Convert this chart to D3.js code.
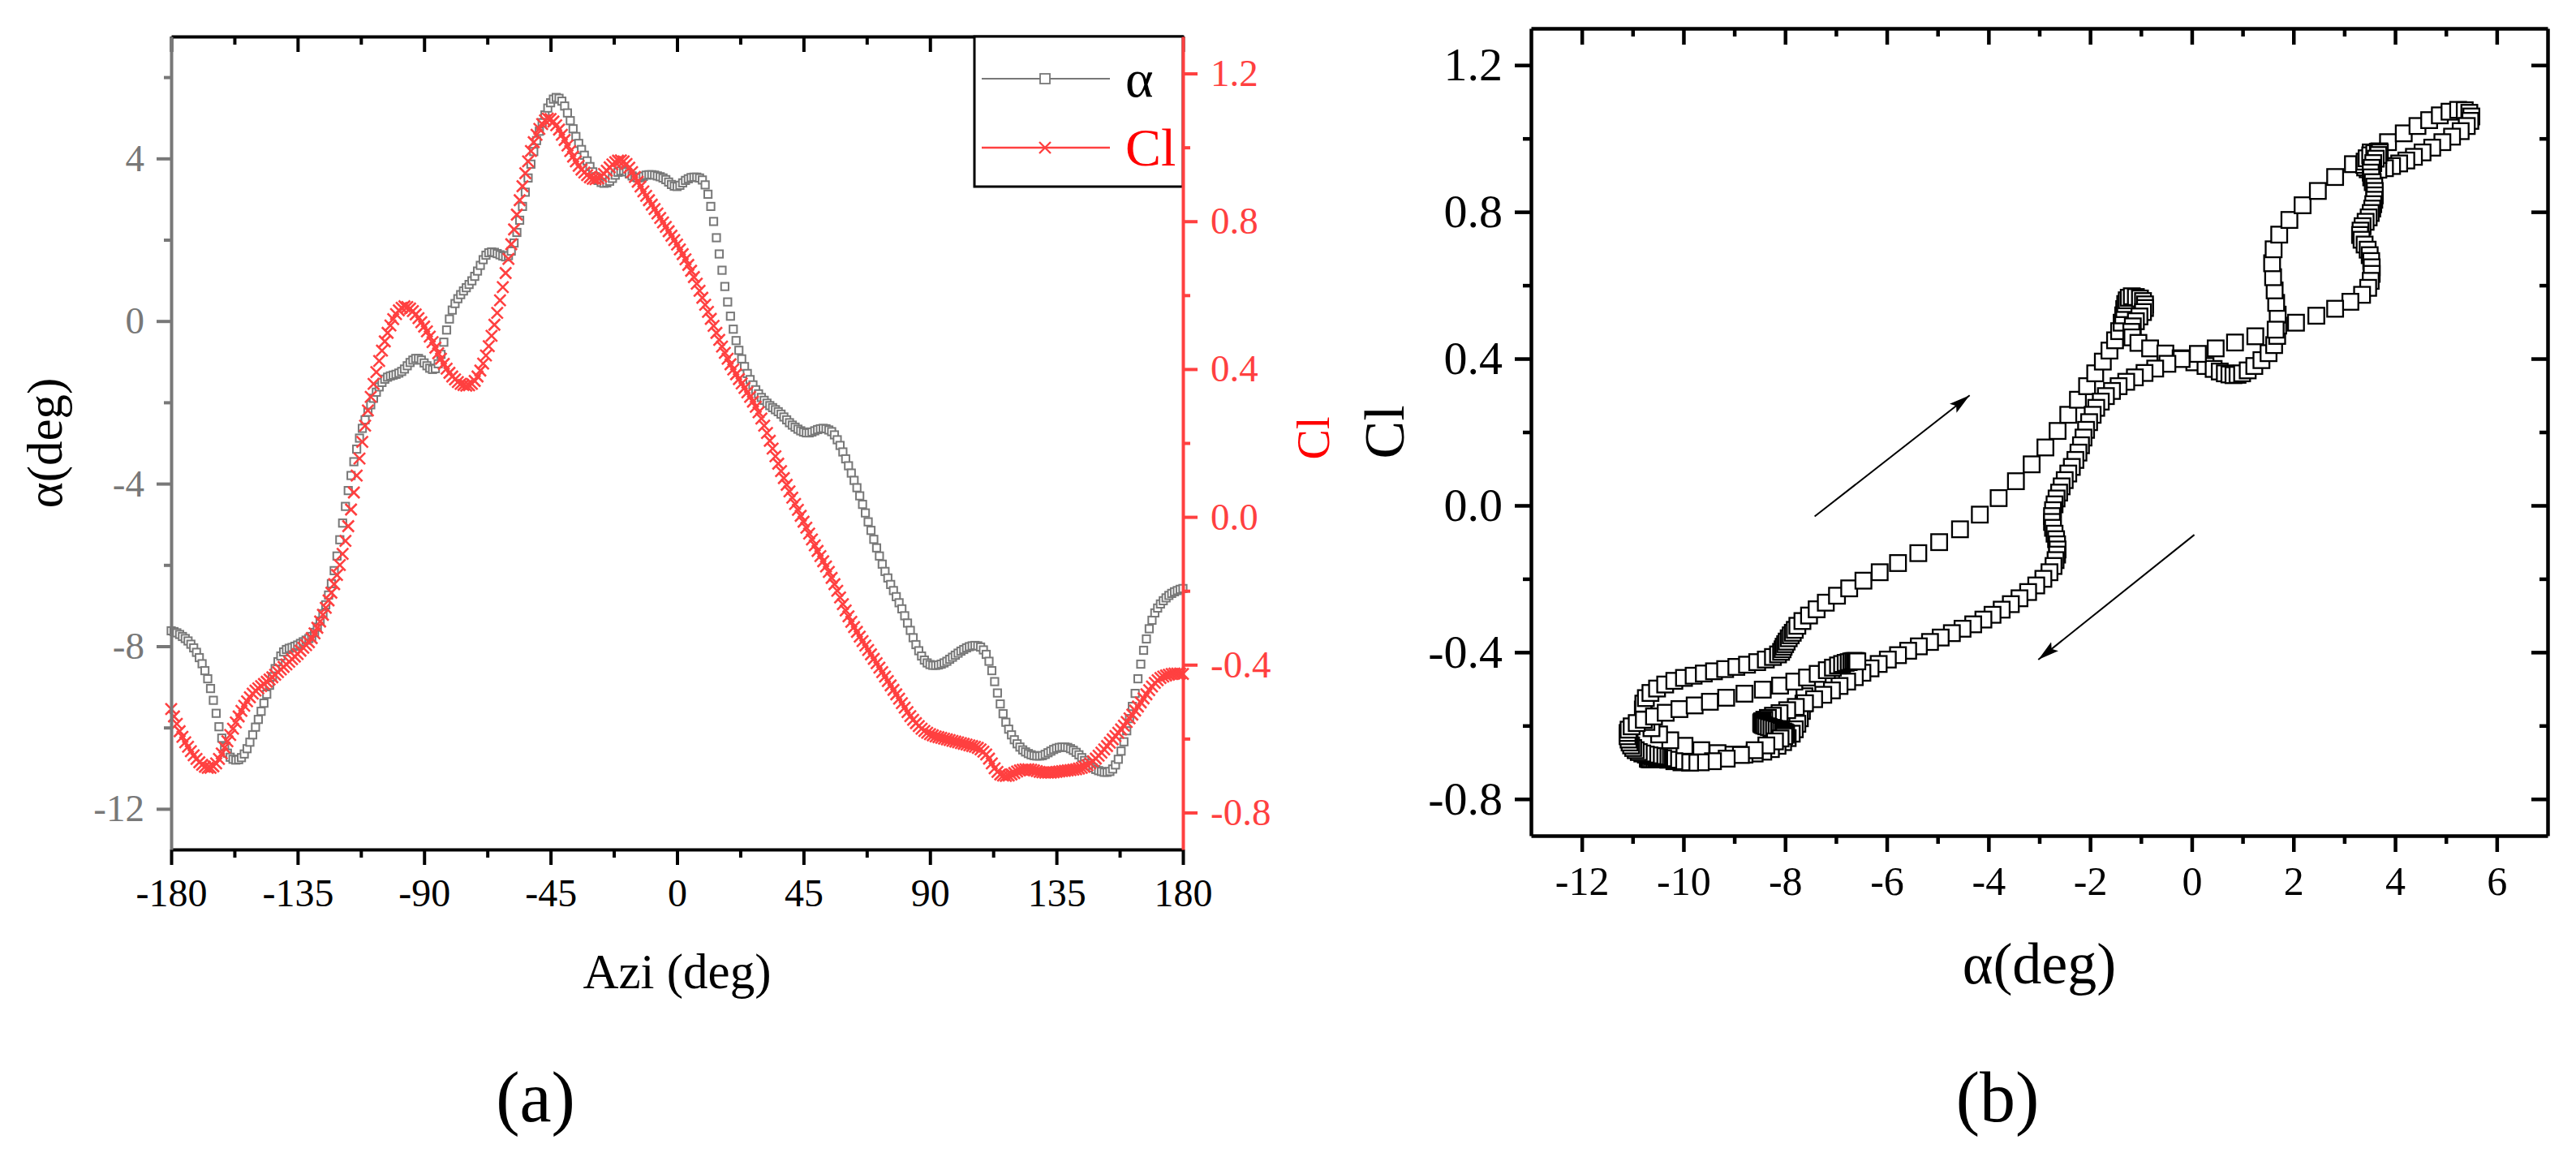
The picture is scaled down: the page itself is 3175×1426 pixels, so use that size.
<!DOCTYPE html>
<html>
<head>
<meta charset="utf-8">
<script src="https://cdn.jsdelivr.net/npm/d3@7"></script>
<style>
  body { margin: 0; background: #fff; }
  svg { display: block; }
  svg text { font-family: "Liberation Serif", "Times New Roman", serif !important; }
</style>
</head>
<body>
<script>
// azimuth sampled every 1 deg from -180 to 180
const aziStart = -180;
const aziStep = 1;

// angle of attack (deg), one value per azimuth step
const alphaDeg = [
  -7.62, -7.64, -7.67, -7.71, -7.76, -7.81, -7.87, -7.95, -8.04, -8.15,
  -8.28, -8.43, -8.6, -8.8, -9.04, -9.33, -9.65, -9.98, -10.26, -10.48,
  -10.63, -10.73, -10.78, -10.8, -10.79, -10.74, -10.65, -10.52, -10.36, -10.18,
  -9.99, -9.8, -9.6, -9.4, -9.18, -8.96, -8.75, -8.55, -8.38, -8.24,
  -8.14, -8.08, -8.05, -8.03, -8.0, -7.97, -7.93, -7.89, -7.85, -7.81,
  -7.76, -7.66, -7.53, -7.38, -7.2, -6.98, -6.74, -6.46, -6.14, -5.78,
  -5.38, -4.97, -4.56, -4.17, -3.8, -3.46, -3.15, -2.88, -2.64, -2.43,
  -2.24, -2.06, -1.9, -1.75, -1.62, -1.51, -1.43, -1.38, -1.35, -1.33,
  -1.31, -1.28, -1.24, -1.18, -1.1, -1.02, -0.96, -0.92, -0.92, -0.96,
  -1.03, -1.1, -1.16, -1.19, -1.17, -1.05, -0.82, -0.52, -0.22, 0.05,
  0.27, 0.43, 0.55, 0.65, 0.74, 0.82, 0.9, 0.99, 1.1, 1.23,
  1.37, 1.51, 1.62, 1.68, 1.7, 1.69, 1.66, 1.63, 1.6, 1.58,
  1.61, 1.72, 1.92, 2.18, 2.48, 2.82, 3.17, 3.52, 3.86, 4.17,
  4.44, 4.67, 4.88, 5.07, 5.24, 5.37, 5.46, 5.5, 5.48, 5.41,
  5.29, 5.12, 4.93, 4.73, 4.54, 4.37, 4.22, 4.08, 3.94, 3.8,
  3.67, 3.55, 3.46, 3.41, 3.39, 3.4, 3.44, 3.51, 3.59, 3.66,
  3.69, 3.7, 3.67, 3.62, 3.57, 3.54, 3.52, 3.53, 3.56, 3.59,
  3.6, 3.6, 3.59, 3.57, 3.55, 3.52, 3.48, 3.42, 3.36, 3.32,
  3.31, 3.34, 3.4, 3.46, 3.5, 3.53, 3.54, 3.54, 3.52, 3.47,
  3.35, 3.12, 2.82, 2.45, 2.05, 1.65, 1.25, 0.85, 0.47, 0.12,
  -0.2, -0.48, -0.72, -0.93, -1.12, -1.29, -1.44, -1.57, -1.69, -1.79,
  -1.88, -1.95, -2.02, -2.08, -2.13, -2.18, -2.23, -2.29, -2.36, -2.43,
  -2.5, -2.56, -2.61, -2.66, -2.7, -2.73, -2.75, -2.75, -2.73, -2.7,
  -2.67, -2.65, -2.64, -2.65, -2.68, -2.72, -2.8, -2.92, -3.06, -3.22,
  -3.39, -3.56, -3.74, -3.92, -4.1, -4.3, -4.51, -4.72, -4.94, -5.15,
  -5.37, -5.58, -5.78, -5.98, -6.16, -6.32, -6.48, -6.63, -6.78, -6.93,
  -7.08, -7.25, -7.43, -7.61, -7.79, -7.96, -8.11, -8.24, -8.34, -8.41,
  -8.45, -8.47, -8.47, -8.46, -8.44, -8.41, -8.37, -8.32, -8.27, -8.22,
  -8.17, -8.12, -8.08, -8.04, -8.01, -7.99, -7.98, -7.99, -8.02, -8.09,
  -8.2, -8.37, -8.6, -8.87, -9.15, -9.42, -9.66, -9.87, -10.04, -10.18,
  -10.3, -10.4, -10.48, -10.55, -10.6, -10.64, -10.67, -10.69, -10.7, -10.7,
  -10.69, -10.66, -10.62, -10.58, -10.54, -10.51, -10.49, -10.48, -10.48, -10.49,
  -10.52, -10.56, -10.61, -10.67, -10.74, -10.81, -10.88, -10.94, -10.99, -11.03,
  -11.06, -11.08, -11.1, -11.1, -11.08, -11.02, -10.92, -10.78, -10.58, -10.35,
  -10.08, -9.78, -9.48, -9.16, -8.8, -8.44, -8.1, -7.82, -7.57, -7.36,
  -7.18, -7.06, -6.96, -6.88, -6.81, -6.75, -6.7, -6.66, -6.63, -6.6,
  -6.58
];

// lift coefficient, one value per azimuth step
const clValues = [
  -0.52, -0.54, -0.56, -0.58, -0.595, -0.61, -0.622, -0.634, -0.645, -0.655,
  -0.664, -0.671, -0.676, -0.679, -0.679, -0.675, -0.667, -0.655, -0.64, -0.624,
  -0.607, -0.59, -0.573, -0.556, -0.54, -0.525, -0.511, -0.499, -0.488, -0.478,
  -0.47, -0.464, -0.458, -0.452, -0.446, -0.44, -0.434, -0.427, -0.42, -0.413,
  -0.406, -0.399, -0.392, -0.385, -0.378, -0.371, -0.362, -0.354, -0.347, -0.339,
  -0.328, -0.315, -0.3, -0.283, -0.265, -0.246, -0.226, -0.205, -0.182, -0.157,
  -0.13, -0.1, -0.065, -0.025, 0.02, 0.066, 0.112, 0.158, 0.203, 0.247,
  0.288, 0.325, 0.36, 0.392, 0.422, 0.45, 0.475, 0.498, 0.518, 0.535,
  0.549, 0.559, 0.566, 0.57, 0.568, 0.564, 0.557, 0.548, 0.538, 0.527,
  0.515, 0.502, 0.488, 0.473, 0.458, 0.443, 0.428, 0.414, 0.401, 0.39,
  0.38, 0.372, 0.365, 0.36, 0.357, 0.355, 0.356, 0.36, 0.368, 0.38,
  0.396, 0.415, 0.437, 0.462, 0.49, 0.52, 0.552, 0.586, 0.622, 0.66,
  0.698, 0.738, 0.778, 0.818, 0.857, 0.895, 0.93, 0.962, 0.99, 1.014,
  1.034, 1.05, 1.063, 1.073, 1.078, 1.077, 1.07, 1.06, 1.048, 1.034,
  1.02, 1.005, 0.99, 0.975, 0.962, 0.95, 0.94, 0.932, 0.925, 0.919,
  0.915, 0.914, 0.916, 0.921, 0.928, 0.937, 0.946, 0.954, 0.96, 0.964,
  0.965, 0.962, 0.955, 0.945, 0.933, 0.92, 0.907, 0.894, 0.881, 0.869,
  0.857, 0.845, 0.833, 0.821, 0.809, 0.797, 0.785, 0.773, 0.761, 0.749,
  0.737, 0.724, 0.711, 0.697, 0.682, 0.666, 0.649, 0.631, 0.612, 0.593,
  0.574, 0.555, 0.536, 0.517, 0.498, 0.479, 0.461, 0.444, 0.428, 0.413,
  0.399, 0.386, 0.373, 0.361, 0.349, 0.337, 0.325, 0.312, 0.298, 0.283,
  0.266, 0.247, 0.227, 0.206, 0.185, 0.164, 0.144, 0.124, 0.105, 0.087,
  0.069, 0.052, 0.035, 0.019, 0.003, -0.013, -0.029, -0.045, -0.061, -0.077,
  -0.092, -0.106, -0.12, -0.134, -0.149, -0.165, -0.182, -0.2, -0.218, -0.236,
  -0.253, -0.269, -0.284, -0.298, -0.311, -0.324, -0.336, -0.348, -0.36, -0.372,
  -0.384, -0.396, -0.408, -0.42, -0.432, -0.444, -0.456, -0.468, -0.48, -0.492,
  -0.504, -0.516, -0.528, -0.539, -0.549, -0.558, -0.566, -0.573, -0.579, -0.584,
  -0.588, -0.591, -0.594, -0.596, -0.598, -0.6, -0.602, -0.604, -0.606, -0.608,
  -0.61, -0.612, -0.614, -0.616, -0.618, -0.62, -0.622, -0.625, -0.629, -0.635,
  -0.643, -0.654, -0.667, -0.68, -0.69, -0.697, -0.7, -0.701, -0.7, -0.697,
  -0.693, -0.689, -0.686, -0.684, -0.683, -0.683, -0.684, -0.686, -0.688, -0.69,
  -0.691, -0.692, -0.692, -0.692, -0.691, -0.69, -0.689, -0.688, -0.687, -0.686,
  -0.685, -0.684, -0.683, -0.681, -0.679, -0.676, -0.672, -0.667, -0.661, -0.654,
  -0.646, -0.638, -0.629, -0.62, -0.611, -0.602, -0.593, -0.584, -0.575, -0.565,
  -0.555, -0.545, -0.535, -0.524, -0.513, -0.502, -0.491, -0.48, -0.469, -0.459,
  -0.449, -0.442, -0.436, -0.432, -0.429, -0.427, -0.425, -0.424, -0.424, -0.424,
  -0.425
];

// tick values
const aziMajor = [-180, -135, -90, -45, 0, 45, 90, 135, 180];
const aziMinor = [-157.5, -112.5, -67.5, -22.5, 22.5, 67.5, 112.5, 157.5];
const alphaMajorA = [-12, -8, -4, 0, 4];
const alphaMinorA = [-10, -6, -2, 2, 6];
const clMajor = [-0.8, -0.4, 0, 0.4, 0.8, 1.2];
const clMinor = [-0.6, -0.2, 0.2, 0.6, 1.0];
const alphaMajorB = [-12, -10, -8, -6, -4, -2, 0, 2, 4, 6];
const alphaMinorB = [-11, -9, -7, -5, -3, -1, 1, 3, 5];

// direction arrows in panel (b), [alpha, Cl] from -> to
const arrowUp = [[-7.42, -0.03], [-4.37, 0.30]];
const arrowDown = [[0.05, -0.08], [-3.02, -0.42]];

const FONT = '"Liberation Serif", "Times New Roman", serif';
const GRAY = "#787878";
const RED = "#ff4040";

const aziVals = alphaDeg.map((_, i) => aziStart + i * aziStep);
const rows = aziVals.map((a, i) => ({ azi: a, alpha: alphaDeg[i], cl: clValues[i] }));

const svg = d3.select("body").append("svg")
  .attr("width", 3175).attr("height", 1426)
  .attr("font-family", FONT);

const fmtInt = v => String(v);
const fmtCl = v => v.toFixed(1);

function drawAxis(g, color, sw, fs) {
  g.attr("font-family", FONT).attr("font-size", fs);
  g.select(".domain").attr("stroke", color).attr("stroke-width", sw);
  g.selectAll(".tick line").attr("stroke", color).attr("stroke-width", sw);
  g.selectAll(".tick text").attr("fill", color);
}
function minorAxis(g, color, sw) {
  g.select(".domain").remove();
  g.selectAll(".tick line").attr("stroke", color).attr("stroke-width", sw);
}

// ---------------- panel (a) ----------------
const A = { l: 211, r: 1458, t: 45, b: 1047 };
const xA = d3.scaleLinear().domain([-180, 180]).range([A.l, A.r]);
const yA = d3.scaleLinear().domain([-13, 7]).range([A.b, A.t]);
const yC = d3.scaleLinear().domain([-0.9, 1.3]).range([A.b, A.t]);

const pa = svg.append("g");

// alpha squares
pa.append("g").selectAll("rect")
  .data(rows).enter().append("rect")
  .attr("x", d => xA(d.azi) - 4.6).attr("y", d => yA(d.alpha) - 4.6)
  .attr("width", 9.2).attr("height", 9.2)
  .attr("fill", "#fff").attr("stroke", GRAY).attr("stroke-width", 2);

// Cl crosses
pa.append("g").selectAll("path")
  .data(rows).enter().append("path")
  .attr("transform", d => `translate(${xA(d.azi)},${yC(d.cl)})`)
  .attr("d", "M-7,-7L7,7M-7,7L7,-7")
  .attr("fill", "none").attr("stroke", RED).attr("stroke-width", 2.6);

// bottom axis
pa.append("g").attr("transform", `translate(0,${A.b})`)
  .call(d3.axisBottom(xA).tickValues(aziMajor).tickSize(19).tickSizeOuter(0).tickPadding(17).tickFormat(fmtInt))
  .call(g => drawAxis(g, "#000", 4, 48));
pa.append("g").attr("transform", `translate(0,${A.b})`)
  .call(d3.axisBottom(xA).tickValues(aziMinor).tickSize(10).tickFormat(() => ""))
  .call(g => minorAxis(g, "#000", 4));
// top border with inward ticks
pa.append("g").attr("transform", `translate(0,${A.t})`)
  .call(d3.axisBottom(xA).tickValues(aziMajor).tickSize(19).tickSizeOuter(0).tickFormat(() => ""))
  .call(g => drawAxis(g, "#000", 4, 48));
pa.append("g").attr("transform", `translate(0,${A.t})`)
  .call(d3.axisBottom(xA).tickValues(aziMinor).tickSize(10).tickFormat(() => ""))
  .call(g => minorAxis(g, "#000", 4));
// left alpha axis
pa.append("g").attr("transform", `translate(${A.l},0)`)
  .call(d3.axisLeft(yA).tickValues(alphaMajorA).tickSize(18).tickSizeOuter(0).tickPadding(15).tickFormat(fmtInt))
  .call(g => drawAxis(g, GRAY, 4, 47));
pa.append("g").attr("transform", `translate(${A.l},0)`)
  .call(d3.axisLeft(yA).tickValues(alphaMinorA).tickSize(9).tickFormat(() => ""))
  .call(g => minorAxis(g, GRAY, 4));

// legend
const lg = pa.append("g");
lg.append("rect").attr("x", 1201).attr("y", A.t).attr("width", A.r - 1201).attr("height", 230 - A.t)
  .attr("fill", "#fff").attr("stroke", "#000").attr("stroke-width", 3);
lg.append("line").attr("x1", 1210).attr("x2", 1368).attr("y1", 97).attr("y2", 97)
  .attr("stroke", GRAY).attr("stroke-width", 2);
lg.append("rect").attr("x", 1282).attr("y", 91).attr("width", 12).attr("height", 12)
  .attr("fill", "#fff").attr("stroke", GRAY).attr("stroke-width", 1.8);
lg.append("text").attr("x", 1387).attr("y", 119).attr("font-size", 66).attr("fill", "#000").text("α");
lg.append("line").attr("x1", 1210).attr("x2", 1368).attr("y1", 182).attr("y2", 182)
  .attr("stroke", RED).attr("stroke-width", 2.5);
lg.append("path").attr("transform", "translate(1288,182)").attr("d", "M-7,-7L7,7M-7,7L7,-7")
  .attr("fill", "none").attr("stroke", RED).attr("stroke-width", 2.4);
lg.append("text").attr("x", 1387).attr("y", 204).attr("font-size", 66).attr("fill", "#ff0000").text("Cl");

// right Cl axis (red)
pa.append("g").attr("transform", `translate(${A.r},0)`)
  .call(d3.axisRight(yC).tickValues(clMajor).tickSize(18).tickSizeOuter(0).tickPadding(16).tickFormat(fmtCl))
  .call(g => drawAxis(g, RED, 4, 47));
pa.append("g").attr("transform", `translate(${A.r},0)`)
  .call(d3.axisRight(yC).tickValues(clMinor).tickSize(9).tickFormat(() => ""))
  .call(g => minorAxis(g, RED, 4));

// titles
pa.append("text").attr("x", (A.l + A.r) / 2).attr("y", 1218).attr("text-anchor", "middle")
  .attr("font-size", 61).attr("fill", "#000").text("Azi (deg)");
pa.append("text").attr("transform", `translate(76,${(A.t + A.b) / 2}) rotate(-90)`)
  .attr("text-anchor", "middle").attr("font-size", 61).attr("fill", "#000").text("α(deg)");
pa.append("text").attr("transform", `translate(1638,540) rotate(-90)`)
  .attr("text-anchor", "middle").attr("font-size", 56).attr("fill", "#ff0000").text("Cl");
pa.append("text").attr("x", 660).attr("y", 1382).attr("text-anchor", "middle")
  .attr("font-size", 88).attr("fill", "#000").text("(a)");

// ---------------- panel (b) ----------------
const B = { l: 1887, r: 3140, t: 35, b: 1030 };
const xB = d3.scaleLinear().domain([-13, 7]).range([B.l, B.r]);
const yB = d3.scaleLinear().domain([-0.9, 1.3]).range([B.b, B.t]);

const pb = svg.append("g");

pb.append("g").selectAll("rect")
  .data(rows).enter().append("rect")
  .attr("x", d => xB(d.alpha) - 9.8).attr("y", d => yB(d.cl) - 9.8)
  .attr("width", 19.6).attr("height", 19.6)
  .attr("fill", "#fff").attr("stroke", "#000").attr("stroke-width", 2.3);

// arrows
const defs = svg.append("defs");
defs.append("marker").attr("id", "head")
  .attr("markerUnits", "userSpaceOnUse").attr("markerWidth", 28).attr("markerHeight", 16)
  .attr("refX", 26).attr("refY", 8).attr("orient", "auto")
  .append("path").attr("d", "M0,1 L26,8 L0,15 L5,8 Z").attr("fill", "#000");
[arrowUp, arrowDown].forEach(ar => {
  pb.append("line")
    .attr("x1", xB(ar[0][0])).attr("y1", yB(ar[0][1]))
    .attr("x2", xB(ar[1][0])).attr("y2", yB(ar[1][1]))
    .attr("stroke", "#000").attr("stroke-width", 2)
    .attr("marker-end", "url(#head)");
});

// axes of (b)
pb.append("g").attr("transform", `translate(0,${B.b})`)
  .call(d3.axisBottom(xB).tickValues(alphaMajorB).tickSize(20).tickSizeOuter(0).tickPadding(17).tickFormat(fmtInt))
  .call(g => drawAxis(g, "#000", 4.5, 50));
pb.append("g").attr("transform", `translate(0,${B.b})`)
  .call(d3.axisBottom(xB).tickValues(alphaMinorB).tickSize(10).tickFormat(() => ""))
  .call(g => minorAxis(g, "#000", 4.5));
pb.append("g").attr("transform", `translate(0,${B.t})`)
  .call(d3.axisBottom(xB).tickValues(alphaMajorB).tickSize(20).tickSizeOuter(0).tickFormat(() => ""))
  .call(g => drawAxis(g, "#000", 4.5, 50));
pb.append("g").attr("transform", `translate(0,${B.t})`)
  .call(d3.axisBottom(xB).tickValues(alphaMinorB).tickSize(10).tickFormat(() => ""))
  .call(g => minorAxis(g, "#000", 4.5));
pb.append("g").attr("transform", `translate(${B.l},0)`)
  .call(d3.axisLeft(yB).tickValues(clMajor).tickSize(20).tickSizeOuter(0).tickPadding(15).tickFormat(fmtCl))
  .call(g => drawAxis(g, "#000", 4.5, 58));
pb.append("g").attr("transform", `translate(${B.l},0)`)
  .call(d3.axisLeft(yB).tickValues(clMinor).tickSize(10).tickFormat(() => ""))
  .call(g => minorAxis(g, "#000", 4.5));
pb.append("g").attr("transform", `translate(${B.r},0)`)
  .call(d3.axisLeft(yB).tickValues(clMajor).tickSize(20).tickSizeOuter(0).tickFormat(() => ""))
  .call(g => drawAxis(g, "#000", 4.5, 50));
pb.append("g").attr("transform", `translate(${B.r},0)`)
  .call(d3.axisLeft(yB).tickValues(clMinor).tickSize(10).tickFormat(() => ""))
  .call(g => minorAxis(g, "#000", 4.5));

pb.append("text").attr("x", (B.l + B.r) / 2).attr("y", 1212).attr("text-anchor", "middle")
  .attr("font-size", 72).attr("fill", "#000").text("α(deg)");
pb.append("text").attr("transform", `translate(1730,${(B.t + B.b) / 2}) rotate(-90)`)
  .attr("text-anchor", "middle").attr("font-size", 70).attr("fill", "#000").text("Cl");
pb.append("text").attr("x", 2462).attr("y", 1382).attr("text-anchor", "middle")
  .attr("font-size", 88).attr("fill", "#000").text("(b)");
</script>
</body>
</html>
